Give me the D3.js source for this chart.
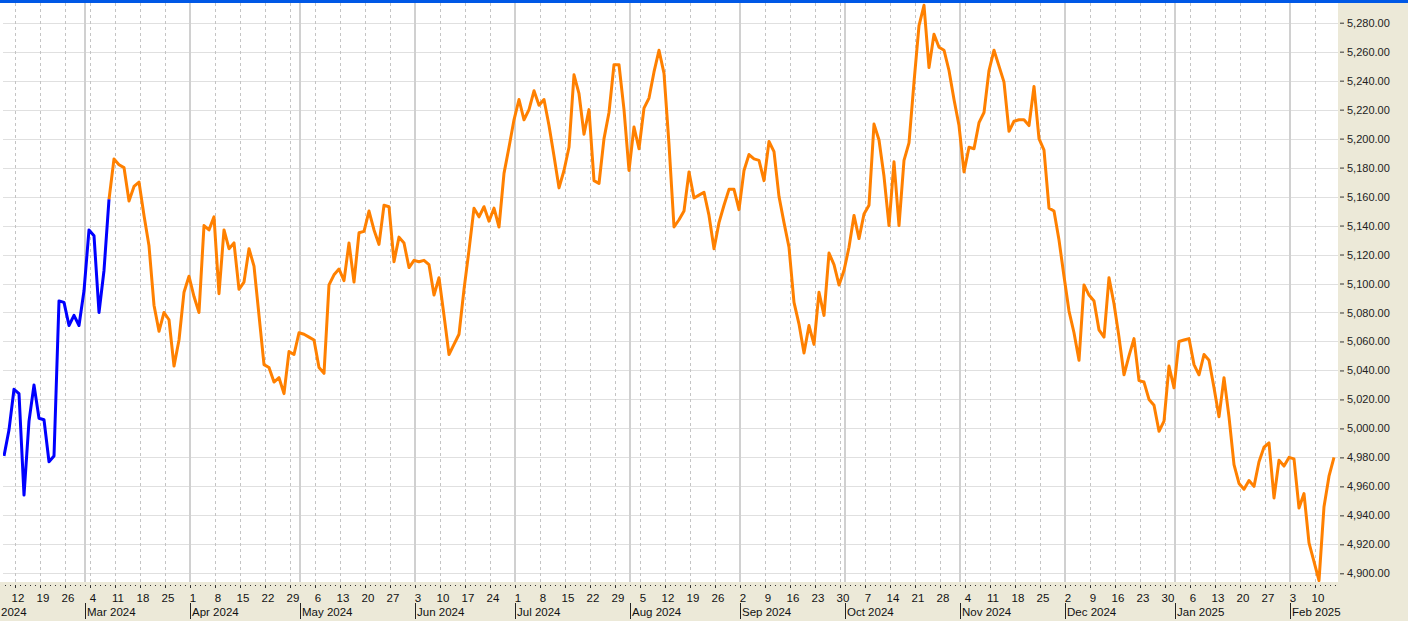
<!DOCTYPE html>
<html>
<head>
<meta charset="utf-8">
<script src="https://cdn.jsdelivr.net/npm/d3@7"></script>
<style>
  html, body { margin: 0; padding: 0; background: #fff; }
  svg { display: block; font-family: "Liberation Sans", Arial, sans-serif; }
</style>
</head>
<body>
<svg id="chart"></svg>
<script>
// daily closes, one per weekday from 8 Feb 2024 to 14 Feb 2025
const firstDay = new Date(2024, 1, 8);
const lastDay = new Date(2025, 1, 14);
const blueEnd = 21; // blue segment runs up to 8 Mar 2024

const closes = [
  4981, 4999, 5027, 5024, 4954, 5005, 5030, 5007, 5006, 4977,
  4981, 5088, 5087, 5071, 5078, 5071, 5095, 5137, 5133, 5080,
  5109, 5158, 5186, 5182, 5180, 5157, 5167, 5170, 5147, 5126,
  5085, 5067, 5080, 5075, 5043, 5061, 5094, 5105, 5091, 5080,
  5140, 5137, 5146, 5093, 5137, 5124, 5128, 5096, 5101, 5124,
  5112, 5078, 5044, 5042, 5032, 5035, 5024, 5053, 5051, 5066,
  5065, 5063, 5061, 5042, 5038, 5099, 5106, 5110, 5102, 5128,
  5101, 5135, 5136, 5150, 5137, 5127, 5154, 5153, 5115, 5132,
  5128, 5111, 5116, 5115, 5116, 5113, 5092, 5104, 5078, 5051,
  5058, 5065, 5096, 5123, 5152, 5146, 5153, 5143, 5152, 5139,
  5176, 5194, 5213, 5227, 5213, 5220, 5233, 5223, 5227, 5209,
  5188, 5166, 5178, 5194, 5244, 5231, 5203, 5220, 5171, 5169,
  5200, 5218, 5251, 5251, 5220, 5178, 5208, 5193, 5221, 5228,
  5246, 5261, 5245, 5196, 5139, 5144, 5150, 5177, 5159, 5161,
  5163, 5147, 5124, 5142, 5154, 5165, 5165, 5151, 5178, 5189,
  5186, 5185, 5171, 5198, 5191, 5160, 5142, 5125, 5087, 5072,
  5052, 5071, 5058, 5094, 5078, 5121, 5113, 5099, 5109, 5125,
  5147, 5131, 5148, 5154, 5210, 5199, 5174, 5140, 5184, 5140,
  5185, 5197, 5239, 5278, 5292, 5249, 5272, 5263, 5261, 5247,
  5227, 5209, 5177, 5194, 5193, 5211, 5218, 5247, 5261, 5250,
  5239, 5205, 5212, 5213, 5213, 5209, 5236, 5200, 5192, 5152,
  5150, 5130, 5105, 5081, 5066, 5047, 5099, 5092, 5088, 5068,
  5063, 5104, 5086, 5063, 5037, 5050, 5062, 5033, 5032, 5020,
  5016, 4998, 5005, 5043, 5028, 5060, 5061, 5062, 5044, 5037,
  5051, 5047, 5028, 5008, 5035, 5008, 4975, 4962, 4958, 4964,
  4960, 4977, 4987, 4990, 4952, 4978, 4974, 4980, 4979, 4945,
  4955, 4921, 4908, 4895, 4946, 4967, 4980
];

const yTicks = d3.range(4900, 5281, 20);
const yDomain = [4894, 5292.9];

const W = 1408, H = 621;
const plot = { left: 3, right: 1338, top: 3, bottom: 582 };

const isWeekday = d => d.getDay() > 0 && d.getDay() < 6;
const days = d3.timeDay.range(firstDay, d3.timeDay.offset(lastDay, 1)).filter(isWeekday);

// weekday position relative to the first close (negative before it)
function wIndex(d) {
  if (d >= firstDay) return d3.timeDay.range(firstDay, d).filter(isWeekday).length;
  return -d3.timeDay.range(d, firstDay).filter(isWeekday).length;
}

const x = d3.scaleLinear().domain([0, days.length - 1]).range([4, 4 + 5 * (days.length - 1)]);
const y = d3.scaleLinear().domain(yDomain).range([plot.bottom, 4]);
const gx = d => x(wIndex(d)) + 1;

const svg = d3.select("#chart").attr("width", W).attr("height", H);

svg.append("rect").attr("width", W).attr("height", H).attr("fill", "#fff");

svg.append("defs").append("clipPath").attr("id", "clip")
  .append("rect")
  .attr("x", plot.left).attr("y", plot.top)
  .attr("width", plot.right - plot.left).attr("height", plot.bottom - plot.top);

const grid = svg.append("g").attr("clip-path", "url(#clip)");

grid.selectAll("line.h")
  .data(yTicks)
  .join("line")
  .attr("class", "h")
  .attr("x1", plot.left).attr("x2", plot.right)
  .attr("y1", d => Math.round(y(d)) + 0.5).attr("y2", d => Math.round(y(d)) + 0.5)
  .attr("stroke", "#e0e0e0");

const mondays = d3.timeMonday.range(new Date(2024, 1, 5), d3.timeDay.offset(lastDay, 1))
  .filter(d => gx(d) > plot.left);

const monthStarts = d3.timeMonth.range(new Date(2024, 1, 1), d3.timeDay.offset(lastDay, 1))
  .map(m => { let d = m; while (!isWeekday(d)) d = d3.timeDay.offset(d, 1); return d; });

grid.selectAll("line.v")
  .data(mondays)
  .join("line")
  .attr("class", "v")
  .attr("x1", d => Math.round(gx(d)) + 0.5).attr("x2", d => Math.round(gx(d)) + 0.5)
  .attr("y1", plot.top).attr("y2", plot.bottom)
  .attr("stroke", "#c4c4c4")
  .attr("stroke-dasharray", "3,3");

grid.selectAll("line.m")
  .data(monthStarts)
  .join("line")
  .attr("class", "m")
  .attr("x1", d => Math.round(gx(d))).attr("x2", d => Math.round(gx(d)))
  .attr("y1", plot.top).attr("y2", plot.bottom)
  .attr("stroke", "#d0d0d0")
  .attr("stroke-width", 2);

const line = d3.line()
  .x(d => x(d.i))
  .y(d => y(d.v));

const pts = closes.map((v, i) => ({ i, v }));

const lines = svg.append("g").attr("clip-path", "url(#clip)")
  .attr("fill", "none").attr("stroke-width", 3).attr("stroke-linejoin", "round");

lines.append("path")
  .datum(pts.slice(blueEnd))
  .attr("stroke", "#ff8000")
  .attr("d", line);

lines.append("path")
  .datum(pts.slice(0, blueEnd + 1))
  .attr("stroke", "#0000ff")
  .attr("d", line);

// panels
svg.append("rect")
  .attr("x", 0).attr("y", plot.bottom)
  .attr("width", W).attr("height", H - plot.bottom)
  .attr("fill", "#ece9d8");
svg.append("rect")
  .attr("x", plot.right).attr("y", 0)
  .attr("width", W - plot.right).attr("height", H)
  .attr("fill", "#ece9d8");
svg.append("rect")
  .attr("width", W).attr("height", 3)
  .attr("fill", "#0058e6");

// right axis
const yAxis = svg.append("g")
  .attr("transform", `translate(${plot.right + 2},0)`)
  .call(d3.axisRight(y).tickValues(yTicks).tickFormat(d3.format(",.2f")).tickSize(4).tickPadding(3));
yAxis.select(".domain").remove();
yAxis.selectAll("line").attr("stroke", "#333");
yAxis.selectAll("text").attr("fill", "#222").style("font-size", "11px")
  .style("font-family", "'Liberation Sans', Arial, sans-serif");

// bottom axis
const bottom = svg.append("g");

bottom.selectAll("rect.dot")
  .data(days)
  .join("rect")
  .attr("class", "dot")
  .attr("x", d => Math.round(gx(d)))
  .attr("y", 585)
  .attr("width", 1)
  .attr("height", d => d.getDay() === 1 ? 3 : 1)
  .attr("fill", "#333");

bottom.selectAll("text.day")
  .data(mondays)
  .join("text")
  .attr("class", "day")
  .attr("x", d => gx(d) + 3)
  .attr("y", 602)
  .attr("text-anchor", "middle")
  .attr("fill", "#111")
  .style("font-size", "11.5px")
  .text(d => d.getDate());

bottom.selectAll("line.msep")
  .data(monthStarts.filter(d => gx(d) > plot.left))
  .join("line")
  .attr("class", "msep")
  .attr("x1", d => Math.round(gx(d)) + 0.5).attr("x2", d => Math.round(gx(d)) + 0.5)
  .attr("y1", 603).attr("y2", 619)
  .attr("stroke", "#222");

// a month that starts left of the plot only shows its year, as in the source
bottom.selectAll("text.month")
  .data(monthStarts)
  .join("text")
  .attr("class", "month")
  .attr("x", d => gx(d) > plot.left ? gx(d) + 2 : 1)
  .attr("y", 616)
  .attr("fill", "#111")
  .style("font-size", "11.5px")
  .text(d => gx(d) > plot.left ? d3.timeFormat("%b %Y")(d) : d3.timeFormat("%Y")(d));
</script>
</body>
</html>
